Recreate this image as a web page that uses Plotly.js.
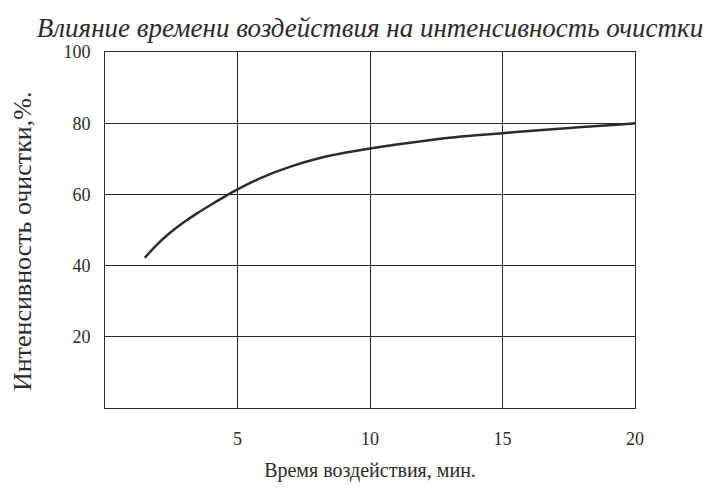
<!DOCTYPE html>
<html>
<head>
<meta charset="utf-8">
<script src="https://cdn.plot.ly/plotly-3.0.1.min.js"></script>
<style>html,body{margin:0;padding:0;background:#fff;}#chart{width:718px;height:492px;}</style>
</head>
<body>
<div id="chart"></div>
<script>
const timeMin = [1.5, 2, 2.5, 3, 3.5, 4, 4.5, 5, 6, 7, 8, 9, 10, 11, 12, 13, 14, 15, 16, 17, 18, 19, 20];
const intensity = [42.2, 46.2, 49.5, 52.3, 54.8, 57.1, 59.3, 61.4, 65.0, 67.8, 70.0, 71.6, 72.9, 74, 75, 75.9, 76.6, 77.2, 77.8, 78.4, 78.9, 79.4, 80];
const xTicks = [5, 10, 15, 20];
const yTicks = [20, 40, 60, 80, 100];
const yTitle = 'Интенсивность очистки,%.';

const ink = '#2b2b2b';
const serif = "'Liberation Serif', 'DejaVu Serif', serif";

Plotly.newPlot('chart', [{
  x: timeMin, y: intensity, type: 'scatter', mode: 'lines',
  line: {color: ink, width: 2.5, shape: 'spline', smoothing: 1},
  hoverinfo: 'skip'
}], {
  width: 718, height: 492,
  margin: {l: 105, r: 83, t: 52, b: 84},
  paper_bgcolor: '#fff', plot_bgcolor: '#fff',
  showlegend: false,
  title: {
    text: '<i>Влияние времени воздействия на интенсивность очистки</i>',
    font: {family: serif, size: 27, color: ink},
    xref: 'paper', x: 0.5, xanchor: 'center',
    yref: 'container', y: 0.945, yanchor: 'middle'
  },
  annotations: [{
    text: yTitle, textangle: -90, showarrow: false,
    xref: 'paper', x: 0, xshift: -83, xanchor: 'center',
    yref: 'paper', y: 0.466, yanchor: 'middle',
    font: {family: serif, size: 26, color: ink}
  }],
  xaxis: {
    range: [0, 20], tickvals: xTicks, ticktext: xTicks.map(String),
    showgrid: true, gridcolor: ink, gridwidth: 1,
    showline: true, linecolor: ink, linewidth: 1, mirror: true,
    zeroline: false, ticks: '', ticklabelstandoff: 14,
    tickfont: {family: serif, size: 18, color: ink},
    title: {text: 'Время воздействия, мин.', font: {family: serif, size: 20, color: ink}, standoff: 15}
  },
  yaxis: {
    range: [0, 100], tickvals: yTicks, ticktext: yTicks.map(String),
    showgrid: true, gridcolor: ink, gridwidth: 1,
    showline: true, linecolor: ink, linewidth: 1, mirror: true,
    zeroline: false, ticks: '', ticklabelstandoff: 10,
    tickfont: {family: serif, size: 18, color: ink}
  }
}, {staticPlot: true});
</script>
</body>
</html>
